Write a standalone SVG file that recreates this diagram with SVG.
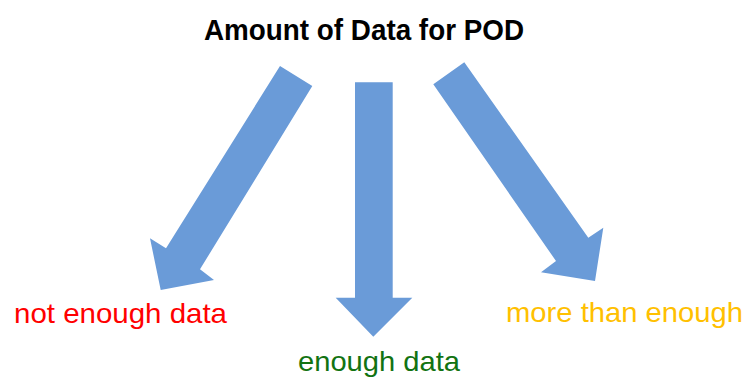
<svg xmlns="http://www.w3.org/2000/svg" width="749" height="379" viewBox="0 0 749 379">
  <style>
    .arrow { fill: #6A9BD8; stroke: none; }
    .title { font-family: "Liberation Sans", Arial, sans-serif; font-weight: bold; font-size: 30px; fill: #000000; }
    .label { font-family: "Liberation Sans", Arial, sans-serif; font-size: 28.5px; }
  </style>
  <rect width="749" height="379" fill="#FFFFFF"/>

  <g id="title">
    <text class="title" x="204" y="40" textLength="320" lengthAdjust="spacingAndGlyphs">Amount of Data for POD</text>
  </g>

  <!-- block arrows from the title to each outcome -->
  <g id="connectors">
    <polygon class="arrow" points="280,66 312.3,86 200,269.3 214,280 160.7,290 150,238.3 166,248.3"/>
    <polygon class="arrow" points="355,82.3 392.7,82.3 392.7,297.7 412.3,297.7 373.3,336.7 335.7,297.7 355,297.7"/>
    <polygon class="arrow" points="433.3,84.3 464.3,62.3 588.3,237.7 603.3,227.7 595,281 541,272.3 556,261"/>
  </g>

  <g id="not-enough">
    <text class="label" x="14" y="322.7" fill="#FF0000" textLength="213" lengthAdjust="spacingAndGlyphs">not enough data</text>
  </g>
  <g id="enough">
    <text class="label" x="298" y="370.5" fill="#127312" textLength="162" lengthAdjust="spacingAndGlyphs">enough data</text>
  </g>
  <g id="more-than-enough">
    <text class="label" x="506" y="321.7" fill="#FFC000" textLength="237" lengthAdjust="spacingAndGlyphs">more than enough</text>
  </g>
</svg>
